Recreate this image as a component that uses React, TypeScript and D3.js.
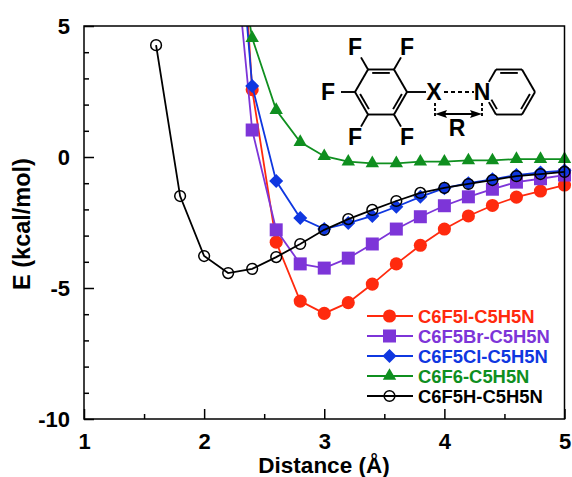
import React, { useEffect, useRef } from "react";
import * as d3 from "d3";

const distances = [2.2, 2.4, 2.6, 2.8, 3.0, 3.2, 3.4, 3.6, 3.8, 4.0, 4.2, 4.4, 4.6, 4.8, 5.0];
const blackDistances = [1.6, 1.8, 2.0, 2.2, 2.4, 2.6, 2.8, 3.0, 3.2, 3.4, 3.6, 3.8, 4.0, 4.2, 4.4, 4.6, 4.8, 5.0];

// first value of each set sits above the axis, only the line shows
const iodine = [17.2, 2.57, -3.25, -5.5, -5.97, -5.56, -4.85, -4.08, -3.37, -2.75, -2.25, -1.85, -1.53, -1.3, -1.07];
const bromine = [10.6, 1.03, -2.78, -4.08, -4.24, -3.86, -3.32, -2.75, -2.28, -1.86, -1.52, -1.23, -0.96, -0.83, -0.69];
const chlorine = [13.7, 2.71, -0.92, -2.33, -2.75, -2.52, -2.25, -1.9, -1.52, -1.19, -1.0, -0.85, -0.69, -0.59, -0.52];
const fluorine = [10, 4.54, 1.79, 0.57, 0.03, -0.18, -0.24, -0.24, -0.18, -0.18, -0.13, -0.13, -0.08, -0.08, -0.08];
const hydrogen = [4.27, -1.49, -3.78, -4.43, -4.27, -3.82, -3.32, -2.78, -2.37, -2.02, -1.68, -1.37, -1.18, -1.03, -0.88, -0.73, -0.65, -0.57];

const seriesNames = ["C6F5I-C5H5N", "C6F5Br-C5H5N", "C6F5Cl-C5H5N", "C6F6-C5H5N", "C6F5H-C5H5N"];
const seriesColors = ["#ff2a0e", "#7d35d8", "#0f37e0", "#0f8f1f", "#000000"];
const seriesSymbols = [d3.symbolCircle, d3.symbolSquare, d3.symbolDiamond2, d3.symbolTriangle, d3.symbolCircle];
const symbolSizes = [135, 169, 125, 78, 90];

const xTicks = [1, 2, 3, 4, 5];
const xMinor = [1.5, 2.5, 3.5, 4.5];
const yTicks = [5, 0, -5, -10];
const yMinor = [4, 3, 2, 1, -1, -2, -3, -4, -6, -7, -8, -9];

const W = 572;
const H = 477;
const left = 84;
const right = 564.5;
const top = 26;
const bottom = 419;
const FONT = "'Liberation Sans', Arial, sans-serif";

export default function App() {
  const svgRef = useRef<SVGSVGElement>(null);

  useEffect(() => {
    const svg = d3.select(svgRef.current);
    svg.selectAll("*").remove();

    const x = d3.scaleLinear().domain([1, 5]).range([left, right]);
    const y = d3.scaleLinear().domain([-10, 5]).range([bottom, top]);

    svg.append("defs").append("clipPath").attr("id", "plot")
      .append("rect").attr("x", left).attr("y", top).attr("width", right - left + 8).attr("height", bottom - top);

    const line = d3.line<[number, number]>().x((d) => x(d[0])).y((d) => y(d[1]));
    const allValues = [iodine, bromine, chlorine, fluorine, hydrogen];
    const plot = svg.append("g").attr("clip-path", "url(#plot)");

    allValues.forEach((vals, i) => {
      const xs = i === 4 ? blackDistances : distances;
      const pts = vals.map((v, j) => [xs[j], v] as [number, number]);
      const open = i === 4;
      const g = plot.append("g");
      g.append("path").attr("d", line(pts)).attr("fill", "none")
        .attr("stroke", seriesColors[i]).attr("stroke-width", 1.8);
      g.selectAll("path.mark").data(pts.filter((p) => p[1] <= 5)).join("path")
        .attr("class", "mark")
        .attr("d", d3.symbol(seriesSymbols[i], symbolSizes[i]))
        .attr("transform", (d) => `translate(${x(d[0])},${y(d[1])})`)
        .attr("fill", open ? "none" : seriesColors[i])
        .attr("stroke", open ? "#000" : "none")
        .attr("stroke-width", 1.5);
    });

    // frame
    svg.append("rect").attr("x", left).attr("y", top).attr("width", right - left).attr("height", bottom - top)
      .attr("fill", "none").attr("stroke", "#000").attr("stroke-width", 1.5);

    // axes, ticks pointing inward
    const xAxis = svg.append("g").attr("transform", `translate(0,${bottom})`)
      .call(d3.axisBottom(x).tickValues(xTicks).tickSize(-10).tickPadding(14).tickFormat((d) => String(d)));
    const yAxis = svg.append("g").attr("transform", `translate(${left},0)`)
      .call(d3.axisLeft(y).tickValues(yTicks).tickSize(-10).tickPadding(14).tickFormat((d) => String(d)));
    svg.append("g").attr("transform", `translate(0,${bottom})`)
      .call(d3.axisBottom(x).tickValues(xMinor).tickSize(-5).tickFormat(() => ""));
    svg.append("g").attr("transform", `translate(${left},0)`)
      .call(d3.axisLeft(y).tickValues(yMinor).tickSize(-5).tickFormat(() => ""));
    svg.selectAll(".domain").remove();
    svg.selectAll(".tick line").attr("stroke", "#000").attr("stroke-width", 1.5);
    [xAxis, yAxis].forEach((a) => a.selectAll("text")
      .attr("font-family", FONT).attr("font-weight", "bold").attr("font-size", 22).attr("fill", "#000"));

    // axis titles
    svg.append("text").attr("x", 324).attr("y", 472.5).attr("text-anchor", "middle")
      .attr("font-family", FONT).attr("font-weight", "bold").attr("font-size", 22.5).text("Distance (Å)");
    svg.append("text").attr("transform", "translate(30,224) rotate(-90)").attr("text-anchor", "middle")
      .attr("font-family", FONT).attr("font-weight", "bold").attr("font-size", 23.5).text("E (kcal/mol)");

    // legend
    seriesNames.forEach((name, i) => {
      const ly = 316 + i * 20;
      const g = svg.append("g");
      g.append("line").attr("x1", 367).attr("x2", 413).attr("y1", ly).attr("y2", ly)
        .attr("stroke", seriesColors[i]).attr("stroke-width", 1.8);
      g.append("path").attr("d", d3.symbol(seriesSymbols[i], symbolSizes[i]))
        .attr("transform", `translate(389.5,${ly})`)
        .attr("fill", i === 4 ? "none" : seriesColors[i])
        .attr("stroke", i === 4 ? "#000" : "none").attr("stroke-width", 1.5);
      g.append("text").attr("x", 418).attr("y", ly + 6.5)
        .attr("font-family", FONT).attr("font-weight", "bold").attr("font-size", 18.4)
        .attr("fill", seriesColors[i]).text(name);
    });

    // molecule inset: two flat-topped rings built from their centres
    const mol = svg.append("g").attr("stroke", "#000").attr("stroke-width", 1.9).attr("fill", "none");
    const r = 26;
    const ringY = 92;
    const vertex = (cx: number, k: number, rad = r): [number, number] => [
      cx + rad * Math.cos((k * Math.PI) / 3),
      ringY + rad * Math.sin((k * Math.PI) / 3),
    ];
    const along = (a: [number, number], b: [number, number], t: number): [number, number] => [
      a[0] + (b[0] - a[0]) * t,
      a[1] + (b[1] - a[1]) * t,
    ];
    const seg = (a: [number, number], b: [number, number]) =>
      mol.append("line").attr("x1", a[0]).attr("y1", a[1]).attr("x2", b[0]).attr("y2", b[1]);
    const innerBond = (cx: number, k: number) => {
      const a = vertex(cx, k, r - 4);
      const b = vertex(cx, k + 1, r - 4);
      seg(along(a, b, 0.1), along(a, b, 0.9));
    };
    const benzene = 381;
    const pyridine = 509;
    d3.range(6).forEach((k) => seg(vertex(benzene, k), vertex(benzene, k + 1)));
    [0, 2, 4].forEach((k) => innerBond(benzene, k));
    // pyridine ring is left open around the N label
    d3.range(6).filter((k) => k !== 2 && k !== 3).forEach((k) => seg(vertex(pyridine, k), vertex(pyridine, k + 1)));
    seg(along(vertex(pyridine, 3), vertex(pyridine, 4), 0.45), vertex(pyridine, 4));
    seg(along(vertex(pyridine, 3), vertex(pyridine, 2), 0.45), vertex(pyridine, 2));
    [0, 4].forEach((k) => innerBond(pyridine, k));
    seg(along(vertex(pyridine, 2, r - 4), vertex(pyridine, 3, r - 4), 0.1), along(vertex(pyridine, 2, r - 4), vertex(pyridine, 3, r - 4), 0.6));

    const labelStyle = (t: d3.Selection<SVGTextElement, unknown, null, undefined>) =>
      t.attr("text-anchor", "middle").attr("font-family", FONT).attr("font-weight", "bold").attr("font-size", 23);

    // C-F bonds and labels
    d3.range(6).forEach((k) => {
      if (k === 0) return;
      seg(vertex(benzene, k), vertex(benzene, k, r + 14));
      const p = vertex(benzene, k, k === 3 ? r + 27 : r + 26);
      svg.append("text").attr("x", p[0]).attr("y", p[1] + 8).call(labelStyle as any).text("F");
    });
    seg(vertex(benzene, 0), [426, ringY]);
    [["X", 434, ringY + 8], ["N", 482, ringY + 8], ["R", 457, 136]].forEach(([t, tx, ty]) => {
      svg.append("text").attr("x", tx as number).attr("y", ty as number).call(labelStyle as any).text(t as string);
    });
    seg([444, ringY], [474, ringY]).attr("stroke-dasharray", "4 3");
    seg([435, 103], [435, 118]).attr("stroke-dasharray", "3 2");
    seg([482, 103], [482, 118]).attr("stroke-dasharray", "3 2");
    seg([439, 114], [478, 114]);
    mol.append("path").attr("d", "M435,114 l12,-4 l-2,4 l2,4 Z").attr("fill", "#000").attr("stroke", "none");
    mol.append("path").attr("d", "M482,114 l-12,-4 l2,4 l-2,4 Z").attr("fill", "#000").attr("stroke", "none");
  }, []);

  return (
    <svg ref={svgRef} width={W} height={H} style={{ position: "absolute", left: 0, top: 0, background: "#fff" }} />
  );
}
